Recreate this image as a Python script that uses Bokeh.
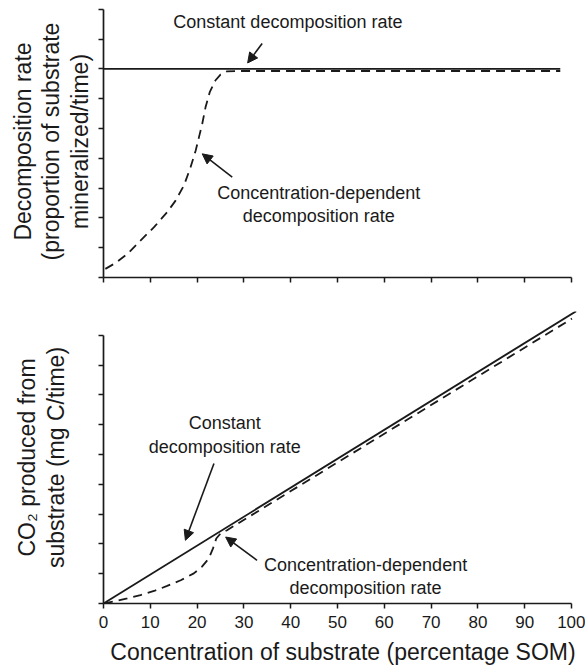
from bokeh.embed import file_html
from bokeh.layouts import column
from bokeh.models import Arrow, FixedTicker, Label, NormalHead, Range1d
from bokeh.plotting import figure
from bokeh.resources import INLINE

# ---- axis ticks ----
conc_ticks = [0, 10, 20, 30, 40, 50, 60, 70, 80, 90, 100]
y_ticks = [0, 1, 2, 3, 4, 5, 6, 7, 8, 9]

# ---- upper panel: decomposition rate vs substrate concentration ----
const_rate_x = [0, 97.6]
const_rate_y = [7.0, 7.0]

dep_rate_x = [0.4, 2.6, 5.1, 7.9, 10.8, 13.6, 15.4, 17.2, 18.6, 19.7, 20.4,
              21.1, 21.8, 22.7, 23.9, 25.0, 26.4, 29.3, 97.6]
dep_rate_y = [0.29, 0.49, 0.79, 1.24, 1.69, 2.19, 2.58, 3.09, 3.70, 4.26, 4.71,
              5.16, 5.71, 6.22, 6.61, 6.81, 6.92, 6.93, 6.93]

# ---- lower panel: CO2 produced vs substrate concentration ----
const_co2_x = [0, 101.0]
const_co2_y = [0, 9.81]

dep_co2_x = [0.1, 2.5, 5.1, 7.9, 10.8, 13.6, 16.5, 19.3, 21.0, 22.5, 23.4,
             24.1, 25.0, 26.4, 100.1]
dep_co2_y = [0.0, 0.08, 0.17, 0.28, 0.42, 0.59, 0.78, 1.01, 1.23, 1.51, 1.85,
             2.18, 2.35, 2.46, 9.56]

FONT = "Liberation Sans"
INK = "#1a1a1a"
PX_X = 4.68     # pixels per x unit
PX_Y = 29.8     # pixels per y unit
W = 585
LEFT = 103
RIGHT = 3
LW = 1.8
DASH = "9 6"


def style_axes(p, x_labels):
    for ax in (p.xaxis[0], p.yaxis[0]):
        ax.axis_line_width = 1.7
        ax.axis_line_color = INK
        ax.major_tick_line_width = 1.5
        ax.major_tick_line_color = INK
        ax.major_tick_in = 0
        ax.major_tick_out = 5
        ax.minor_tick_line_color = None
    p.xaxis.ticker = FixedTicker(ticks=conc_ticks)
    p.xaxis.bounds = (0, 100)
    p.yaxis.ticker = FixedTicker(ticks=y_ticks)
    p.yaxis.bounds = (0, 9)
    p.yaxis.major_label_overrides = {t: "" for t in y_ticks}
    p.yaxis.major_label_text_font_size = "1px"
    p.yaxis.major_label_standoff = 0
    p.yaxis.axis_label_text_font = FONT
    p.yaxis.axis_label_text_font_size = "23px"
    p.yaxis.axis_label_text_font_style = "normal"
    p.yaxis.axis_label_text_color = INK
    p.yaxis.axis_label_text_align = "center"
    p.yaxis.axis_label_text_line_height = 1.09
    if x_labels:
        p.xaxis.major_label_text_font = FONT
        p.xaxis.major_label_text_font_size = "17px"
        p.xaxis.major_label_text_color = INK
        p.xaxis.major_label_standoff = 7
    else:
        p.xaxis.major_label_overrides = {t: "" for t in conc_ticks}
        p.xaxis.major_label_text_font_size = "1px"
        p.xaxis.major_label_standoff = 0


def note(p, x, y, text, size="18px"):
    p.add_layout(Label(x=x, y=y, text=text,
                       text_align="center", text_baseline="middle",
                       text_font=FONT, text_font_size=size, text_color=INK))


def pointer(p, x0, y0, x1, y1):
    p.add_layout(Arrow(x_start=x0, y_start=y0, x_end=x1, y_end=y1,
                       line_width=1.6, line_color=INK,
                       end=NormalHead(size=10, line_color=INK, fill_color=INK,
                                      line_width=1)))


# ---------------- upper figure ----------------
H1 = 300
top_border1, bottom_border1 = 5, 23
frame_w = W - LEFT - RIGHT
frame_h1 = H1 - top_border1 - bottom_border1

p1 = figure(width=W, height=H1, output_backend="svg", toolbar_location=None,
            x_range=Range1d(0, frame_w / PX_X),
            y_range=Range1d(0, frame_h1 / PX_Y),
            min_border_left=LEFT, min_border_right=RIGHT,
            min_border_top=top_border1, min_border_bottom=bottom_border1)
p1.grid.visible = False
p1.outline_line_color = None
style_axes(p1, x_labels=False)
p1.yaxis.axis_label = ("Decomposition rate\n(proportion of substrate\n"
                       "mineralized/time)")
p1.yaxis.axis_label_standoff = 6

p1.line(const_rate_x, const_rate_y, line_color=INK, line_width=LW)
p1.line(dep_rate_x, dep_rate_y, line_color=INK, line_width=LW,
        line_dash=DASH)

note(p1, 39.4, 8.56, "Constant decomposition rate")
pointer(p1, 33.9, 7.85, 30.8, 7.2)
note(p1, 46.0, 2.82, "Concentration-dependent")
note(p1, 46.0, 2.08, "decomposition rate")
pointer(p1, 27.5, 3.37, 21.1, 4.15)

# ---------------- lower figure ----------------
H2 = 367
top_border2, bottom_border2 = 11, 64
frame_h2 = H2 - top_border2 - bottom_border2

p2 = figure(width=W, height=H2, output_backend="svg", toolbar_location=None,
            x_range=Range1d(0, frame_w / PX_X),
            y_range=Range1d(0, frame_h2 / PX_Y),
            min_border_left=LEFT, min_border_right=RIGHT,
            min_border_top=top_border2, min_border_bottom=bottom_border2)
p2.grid.visible = False
p2.outline_line_color = None
style_axes(p2, x_labels=True)
p2.yaxis.axis_label = "CO\u2082 produced from\nsubstrate (mg C/time)"
p2.yaxis.axis_label_standoff = 30
p2.xaxis.axis_label = "Concentration of substrate (percentage SOM)"
p2.xaxis.axis_label_text_font = FONT
p2.xaxis.axis_label_text_font_size = "23px"
p2.xaxis.axis_label_text_font_style = "normal"
p2.xaxis.axis_label_text_color = INK
p2.xaxis.axis_label_standoff = 8

p2.line(const_co2_x, const_co2_y, line_color=INK, line_width=LW)
p2.line(dep_co2_x, dep_co2_y, line_color=INK, line_width=LW,
        line_dash=DASH)

note(p2, 25.9, 6.05, "Constant")
note(p2, 25.9, 5.26, "decomposition rate")
pointer(p2, 23.6, 4.70, 17.5, 2.12)
note(p2, 56.0, 1.29, "Concentration-dependent")
note(p2, 56.0, 0.51, "decomposition rate")
pointer(p2, 32.8, 1.45, 26.1, 2.23)

layout = column(p1, p2, spacing=0)
open("out.html", "w").write(file_html(layout, INLINE))
